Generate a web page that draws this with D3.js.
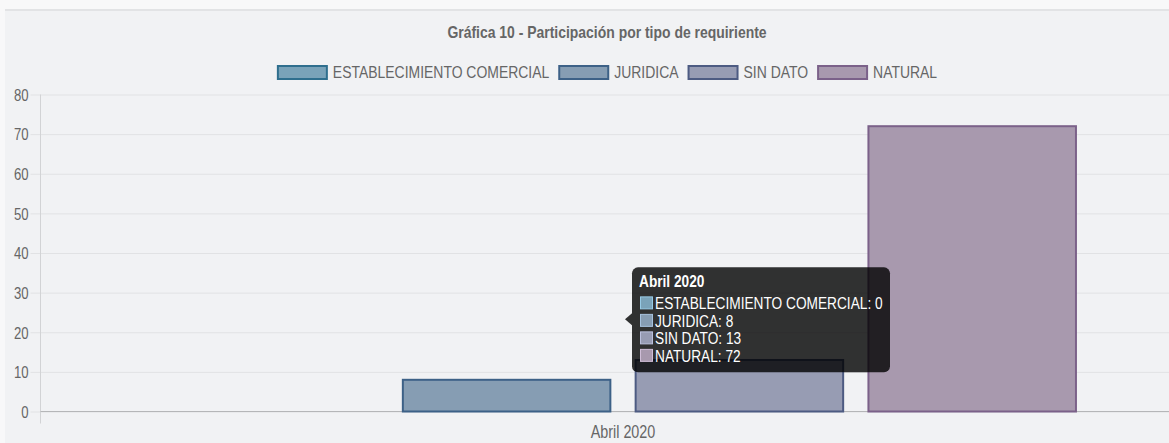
<!DOCTYPE html>
<html>
<head>
<meta charset="utf-8">
<script src="https://cdn.jsdelivr.net/npm/d3@7"></script>
<style>
  body { margin: 0; background: #f8f8f9; }
  svg { display: block; }
  text { font-family: "Liberation Sans", Arial, sans-serif; }
</style>
</head>
<body>
<svg id="chart"></svg>
<script>
const categories = ["Abril 2020"];
const seriesNames = ["ESTABLECIMIENTO COMERCIAL", "JURIDICA", "SIN DATO", "NATURAL"];
const seriesValues = [0, 8, 13, 72];
const yTicks = [0, 10, 20, 30, 40, 50, 60, 70, 80];
const fills = ["#7aa3b9", "#869db3", "#979cb3", "#a899ae"];
const borders = ["#2f6f8e", "#3d6187", "#4d5b82", "#7b6189"];
const title = "Gráfica 10 - Participación por tipo de requiriente";

const width = 1169, height = 443;
const margin = { top: 94.5, left: 40.5, bottom: 411.5 };
const plotRight = 1205;
const centerX = 607;
const squeeze = 0.82; // narrow look of the original font

const svg = d3.select("#chart").attr("width", width).attr("height", height);

// squeeze text horizontally
function narrow(sel) {
  sel.each(function () {
    const w = this.getComputedTextLength();
    this.setAttribute("textLength", w * squeeze);
    this.setAttribute("lengthAdjust", "spacingAndGlyphs");
  });
  return sel;
}

// panel
svg.append("rect").attr("x", 5).attr("y", 9).attr("width", width).attr("height", height)
  .attr("fill", "#f1f2f4");
svg.append("line").attr("x1", 5).attr("x2", width).attr("y1", 10).attr("y2", 10)
  .attr("stroke", "#e2e3e5").attr("stroke-width", 2);

const x0 = d3.scaleBand().domain(categories).range([41, plotRight]).padding(0);
const x1 = d3.scaleBand().domain(seriesNames)
  .range([x0.bandwidth() * 0.1, x0.bandwidth() * 0.9])
  .paddingInner(0.1).paddingOuter(0.05);
const y = d3.scaleLinear().domain([0, 80]).range([margin.bottom, margin.top]);

// grid
const yAxis = d3.axisLeft(y).tickValues(yTicks).tickSize(-(width - margin.left)).tickPadding(12);
const gy = svg.append("g").attr("transform", `translate(${margin.left},0)`).call(yAxis);
gy.select(".domain").remove();
gy.selectAll(".tick line").attr("stroke", "#e1e2e4").attr("x1", -10);
gy.selectAll(".tick text").attr("fill", "#666").style("font-size", "16px")
  .attr("x", -12).attr("dy", "0.36em").call(narrow);

svg.append("line").attr("x1", margin.left).attr("x2", margin.left)
  .attr("y1", margin.top).attr("y2", margin.bottom + 12)
  .attr("stroke", "#d2d3d5");

// x axis
const xAxis = d3.axisBottom(x0).tickSize(0).tickPadding(14);
const gx = svg.append("g").attr("transform", `translate(0,${margin.bottom})`).call(xAxis);
gx.select(".domain").attr("d", `M${margin.left},0H${width}`).attr("stroke", "#b5b6b8");
gx.selectAll(".tick text").attr("fill", "#666").style("font-size", "17.5px").call(narrow);

// bars
const group = svg.append("g").selectAll("g").data(categories).join("g")
  .attr("transform", (d) => `translate(${x0(d)},0)`);
group.selectAll("rect").data(seriesNames.map((s, i) => ({ s, i, v: seriesValues[i] })))
  .join("rect")
  .attr("x", (d) => x1(d.s) + 1)
  .attr("y", (d) => y(d.v))
  .attr("width", x1.bandwidth() - 2)
  .attr("height", (d) => y(0) - y(d.v))
  .attr("fill", (d) => fills[d.i])
  .attr("stroke", (d) => (d.v > 0 ? borders[d.i] : "none"))
  .attr("stroke-width", 2);

// title
svg.append("text").attr("x", centerX).attr("y", 38).attr("text-anchor", "middle")
  .attr("fill", "#666").style("font-size", "17px").style("font-weight", "bold")
  .text(title).call(narrow);

// legend
const legend = svg.append("g");
let lx = 0;
seriesNames.forEach((s, i) => {
  const item = legend.append("g").attr("transform", `translate(${lx},0)`);
  item.append("rect").attr("x", 1).attr("y", 66).attr("width", 49).attr("height", 13)
    .attr("fill", fills[i]).attr("stroke", borders[i]).attr("stroke-width", 2);
  const t = item.append("text").attr("x", 56).attr("y", 78).attr("fill", "#666")
    .style("font-size", "17px").text(s).call(narrow);
  lx += 56 + +t.attr("textLength") + 9;
});
legend.attr("transform", `translate(${centerX - (lx - 9) / 2},0)`);

// tooltip
const barCenters = seriesNames.map((s) => x0(categories[0]) + x1(s) + x1.bandwidth() / 2);
const tipX = d3.mean(barCenters) + 2;
const tipY = y(d3.mean(seriesValues));
const tip = svg.append("g").attr("transform", `translate(${tipX},${tipY})`);
const tw = 258, th = 105;
tip.append("path").attr("d", "M0,0L7,-6V6Z").attr("fill", "rgba(0,0,0,0.8)");
tip.append("rect").attr("x", 7).attr("y", -52).attr("width", tw).attr("height", th)
  .attr("rx", 6).attr("fill", "rgba(0,0,0,0.8)");
tip.append("text").attr("x", 14).attr("y", -32).attr("fill", "#fff")
  .style("font-size", "16.7px").style("font-weight", "bold").text(categories[0]).call(narrow);
seriesNames.forEach((s, i) => {
  const yy = -16 + i * 17.5;
  tip.append("rect").attr("x", 15.5).attr("y", yy - 6.5).attr("width", 12).attr("height", 12)
    .attr("fill", fills[i]).attr("stroke", d3.color(fills[i]).brighter(0.6)).attr("stroke-width", 1);
  tip.append("text").attr("x", 30).attr("y", yy + 6).attr("fill", "#fff")
    .style("font-size", "16.7px").text(`${s}: ${seriesValues[i]}`).call(narrow);
});
</script>
</body>
</html>
